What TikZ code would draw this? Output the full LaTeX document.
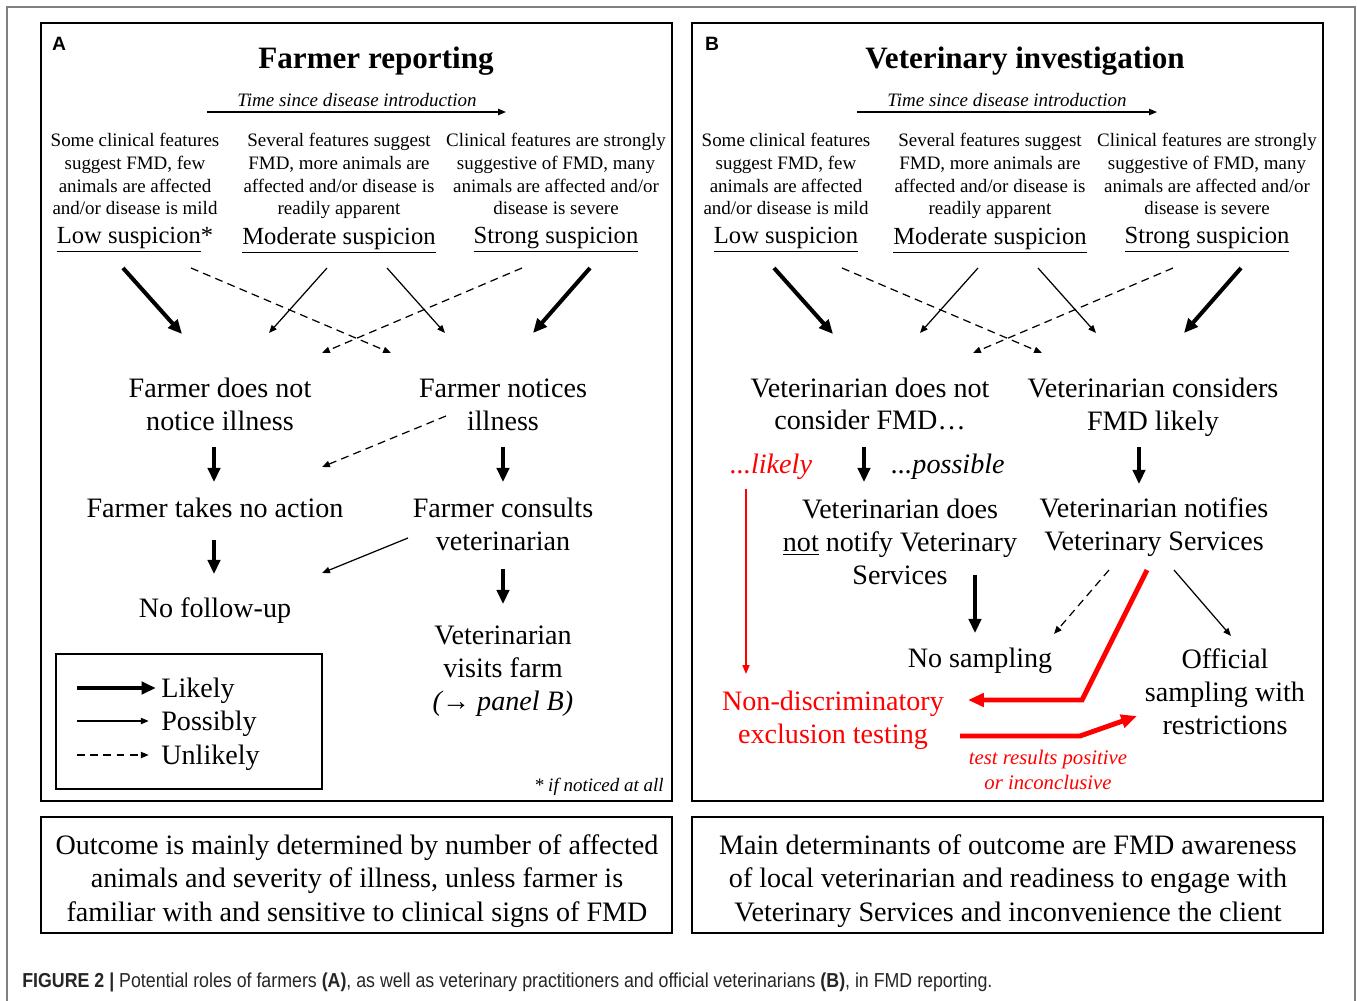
\documentclass[tikz,border=0pt]{standalone}
\usepackage{fontspec}
\setmainfont{Liberation Serif}
\newfontfamily\labfont{Liberation Sans}
\newfontfamily\capfont[FakeStretch=0.88]{Liberation Sans}
\usetikzlibrary{arrows.meta}

\begin{document}
\begin{tikzpicture}[x=0.02cm,y=-0.02cm]
		\tikzset{txt/.style={align=center, inner sep=0pt,
				font=\fontsize{16}{18.7}\selectfont},
			small/.style={align=center, inner sep=0pt,
				font=\fontsize{10.8}{13}\selectfont},
			susp/.style={inner sep=0pt, font=\fontsize{14}{16}\selectfont},
			title/.style={inner sep=0pt, font=\fontsize{17.7}{20}\selectfont\bfseries},
			lab/.style={inner sep=0pt, font=\labfont\fontsize{11}{13}\selectfont\bfseries},
			panel/.style={draw, line width=1.1pt},
			likely/.style={line width=2.3pt, -{Triangle[length=8pt,width=7pt]}},
			possibly/.style={line width=0.7pt, -{Triangle[length=4.5pt,width=3.6pt]}},
			unlikely/.style={possibly, dash pattern=on 4.5pt off 3pt},
			redlikely/.style={red, line width=2.8pt, -{Triangle[length=9pt,width=7.5pt]}},
			redthin/.style={red, line width=0.8pt, -{Triangle[length=5pt,width=4pt]}}}
		
		\useasboundingbox (0,0) rectangle (1357,1001);
		\fill[white] (0,0) rectangle (1357,1001);
		% Outer frame
		\draw[gray, line width=0.9pt] (7,1001) -- (7,7) -- (1355,7) -- (1355,1001);
		\draw[panel] (41,23) rectangle (672,801);
		\draw[panel] (692,23) rectangle (1323,801);
		
		%%%%%%%%%%%%%%%% Panel A %%%%%%%%%%%%%%%%
		\node[lab] (pa) at (59,44) {A};
		\node[title] (ta) at (376,61) {Farmer reporting};
		\node[small] (tia) at (357,100) {\itshape Time since disease introduction};
		\coordinate (ta1) at (207,112);
		\coordinate (ta2) at (506,112);
		\draw[possibly] (ta1) -- (ta2);
		
		% Clinical features
		\node[small] (d1a) at (135,174) {Some clinical features\\suggest FMD, few\\animals are affected\\and/or disease is mild};
		\node[small] (d2a) at (339,176) {Several features suggest\\FMD, more animals are\\affected and/or disease is\\readily apparent};
		\node[small] (d3a) at (556,174) {Clinical features are strongly\\suggestive of FMD, many\\animals are affected and/or\\disease is severe};
		\node[susp] (s1a) at (135,240) {\underline{Low suspicion}*};
		\node[susp] (s2a) at (339,240) {\underline{Moderate suspicion}};
		\node[susp] (s3a) at (556,240) {\underline{Strong suspicion}};
		
		% Farmer states
		\node[txt] (fdn) at (220,404) {Farmer does not\\notice illness};
		\node[txt] (fni) at (503,405) {Farmer notices\\illness};
		\node[txt] (fna) at (215,508) {Farmer takes no action};
		\node[txt] (fcv) at (503,524) {Farmer consults\\veterinarian};
		\node[txt] (nfu) at (215,611) {No follow-up};
		\node[txt] (vvf) at (503,671) {Veterinarian\\visits farm\\{\itshape(→ panel B)}};
		
		% Arrow ends
		\coordinate (a1) at (123,268); \coordinate (a1e) at (182,334);
		\coordinate (a2) at (191,268); \coordinate (a2e) at (391,353);
		\coordinate (a3) at (327,268); \coordinate (a3e) at (269,333);
		\coordinate (a4) at (387,268); \coordinate (a4e) at (445,333);
		\coordinate (a5) at (522,268); \coordinate (a5e) at (322,353);
		\coordinate (a6) at (590,268); \coordinate (a6e) at (533,333);
		\coordinate (a7) at (446,416); \coordinate (a7e) at (322,467);
		\coordinate (a8) at (408,538); \coordinate (a8e) at (322,573);
		\coordinate (a9) at (214,447); \coordinate (a9e) at (214,482);
		\coordinate (a10) at (503,447); \coordinate (a10e) at (503,482);
		\coordinate (a11) at (214,540); \coordinate (a11e) at (214,574);
		\coordinate (a12) at (503,569); \coordinate (a12e) at (503,604);
		
		% Connect the states with arrows
		\draw[likely] (a1) -- (a1e);
		\draw[unlikely] (a2) -- (a2e);
		\draw[possibly] (a3) -- (a3e);
		\draw[possibly] (a4) -- (a4e);
		\draw[unlikely] (a5) -- (a5e);
		\draw[likely] (a6) -- (a6e);
		\draw[likely] (a9) -- (a9e);
		\draw[likely] (a10) -- (a10e);
		\draw[unlikely] (a7) -- (a7e);
		\draw[likely] (a11) -- (a11e);
		\draw[possibly] (a8) -- (a8e);
		\draw[likely] (a12) -- (a12e);
		
		% Legend
		\draw[line width=0.8pt] (56,654) rectangle (322,789);
		\node[txt, anchor=west] (ll) at (161,691) {Likely};
		\node[txt, anchor=west] (lp) at (161,724) {Possibly};
		\node[txt, anchor=west] (lu) at (161,758) {Unlikely};
		\coordinate (lk) at (77,688);
		\coordinate (lpo) at (77,721);
		\coordinate (lun) at (77,755);
		\draw[likely, shorten >=3pt] (lk) -- (lk -| ll.west);
		\draw[possibly, shorten >=7pt] (lpo) -- (lpo -| lp.west);
		\draw[unlikely, shorten >=7pt] (lun) -- (lun -| lu.west);
		\node[small, anchor=east] (fn) at (664,787) {\itshape * if noticed at all};
		
		%%%%%%%%%%%%%%%% Panel B %%%%%%%%%%%%%%%%
		\node[lab] (pb) at (712,44) {B};
		\node[title] (tb) at (1025,61) {Veterinary investigation};
		\node[small] (tib) at (1007,100) {\itshape Time since disease introduction};
		\coordinate (tb1) at (857,112);
		\coordinate (tb2) at (1157,112);
		\draw[possibly] (tb1) -- (tb2);
		
		\node[small] (d1b) at (786,174) {Some clinical features\\suggest FMD, few\\animals are affected\\and/or disease is mild};
		\node[small] (d2b) at (990,176) {Several features suggest\\FMD, more animals are\\affected and/or disease is\\readily apparent};
		\node[small] (d3b) at (1207,174) {Clinical features are strongly\\suggestive of FMD, many\\animals are affected and/or\\disease is severe};
		\node[susp] (s1b) at (786,240) {\underline{Low suspicion}};
		\node[susp] (s2b) at (990,240) {\underline{Moderate suspicion}};
		\node[susp] (s3b) at (1207,240) {\underline{Strong suspicion}};
		
		% Veterinarian states
		\node[txt] (vdn) at (870,404) {Veterinarian does not\\consider FMD\ldots};
		\node[txt] (vcl) at (1153,407) {Veterinarian considers\\FMD likely};
		\node[txt, red] (lik) at (771,467) {\itshape ...likely};
		\node[txt] (pos) at (948,467) {\itshape ...possible};
		\node[txt] (vnn) at (900,542) {Veterinarian does\\\underline{not} notify Veterinary\\Services};
		\node[txt] (vnv) at (1154,527) {Veterinarian notifies\\Veterinary Services};
		\node[txt] (nos) at (980,661) {No sampling};
		\node[txt] (off) at (1225,692) {Official\\sampling with\\restrictions};
		\node[txt, red] (ndt) at (833,720) {Non-discriminatory\\exclusion testing};
		\node[small, red, font=\fontsize{11.8}{14.2}\selectfont] (trp) at (1048,770) {\itshape test results positive\\\itshape or inconclusive};
		
		% Arrow ends
		\coordinate (b1) at (774,268); \coordinate (b1e) at (833,334);
		\coordinate (b2) at (842,268); \coordinate (b2e) at (1042,353);
		\coordinate (b3) at (978,268); \coordinate (b3e) at (920,333);
		\coordinate (b4) at (1038,268); \coordinate (b4e) at (1096,333);
		\coordinate (b5) at (1173,268); \coordinate (b5e) at (973,353);
		\coordinate (b6) at (1241,268); \coordinate (b6e) at (1184,333);
		\coordinate (b7) at (864,447); \coordinate (b7e) at (864,482);
		\coordinate (b8) at (1139,447); \coordinate (b8e) at (1139,484);
		\coordinate (b9) at (975,575); \coordinate (b9e) at (975,633);
		\coordinate (b10) at (1109,570); \coordinate (b10e) at (1054,634);
		\coordinate (b11) at (1174,570); \coordinate (b11e) at (1231,636);
		\coordinate (r1) at (746,489); \coordinate (r1e) at (746,674);
		\coordinate (r2) at (1147,570); \coordinate (r2m) at (1082,700); \coordinate (r2e) at (968,700);
		\coordinate (r3) at (960,736); \coordinate (r3m) at (1080,736); \coordinate (r3e) at (1137,716);
		
		% Connect the states with arrows
		\draw[likely] (b1) -- (b1e);
		\draw[unlikely] (b2) -- (b2e);
		\draw[possibly] (b3) -- (b3e);
		\draw[possibly] (b4) -- (b4e);
		\draw[unlikely] (b5) -- (b5e);
		\draw[likely] (b6) -- (b6e);
		\draw[likely] (b7) -- (b7e);
		\draw[likely] (b8) -- (b8e);
		\draw[likely] (b9) -- (b9e);
		\draw[unlikely] (b10) -- (b10e);
		\draw[possibly] (b11) -- (b11e);
		\draw[redthin] (r1) -- (r1e);
		\draw[redlikely] (r2) -- (r2m) -- (r2e);
		\draw[redlikely] (r3) -- (r3m) -- (r3e);
		
		%%%%%%%%%%%%%%%% Outcome boxes %%%%%%%%%%%%%%%%
		\node[panel, minimum width=12.62cm, minimum height=2.32cm] (oa) at (356.5,875) {};
		\node[panel, minimum width=12.62cm, minimum height=2.32cm] (ob) at (1007.5,875) {};
		\node[txt, font=\fontsize{16}{19}\selectfont] (oat) at (357,881) {Outcome is mainly determined by number of affected\\animals and severity of illness, unless farmer is\\familiar with and sensitive to clinical signs of FMD};
		\node[txt, font=\fontsize{16}{19}\selectfont] (obt) at (1008,881) {Main determinants of outcome are FMD awareness\\of local veterinarian and readiness to engage with\\Veterinary Services and inconvenience the client};
		
		% Caption
		\node[anchor=base west, inner sep=0pt, text=black!85, font=\capfont\fontsize{11.5}{13}\selectfont] (cap) at (22,987) {\textbf{FIGURE 2 |} Potential roles of farmers \textbf{(A)}, as well as veterinary practitioners and official veterinarians \textbf{(B)}, in FMD reporting.};
		
\end{tikzpicture}
\end{document}
